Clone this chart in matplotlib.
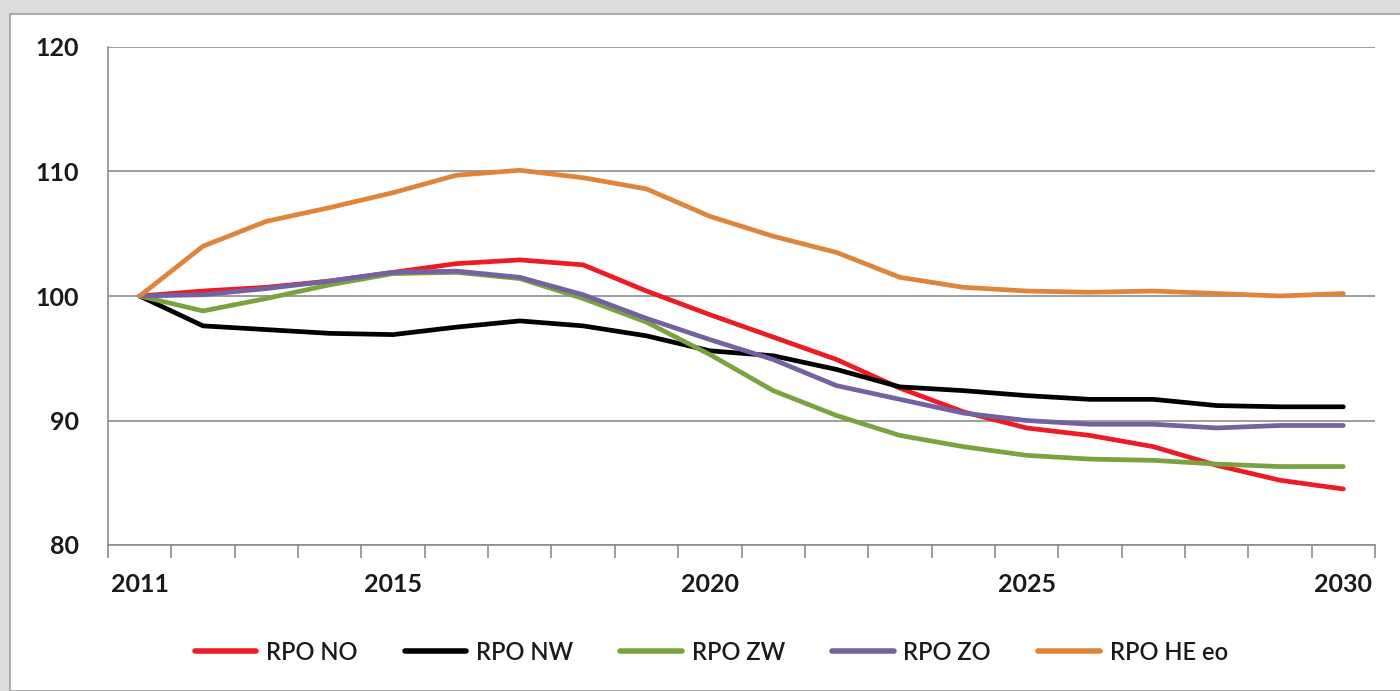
import matplotlib.pyplot as plt
from matplotlib.patches import Rectangle
from matplotlib.ticker import FixedLocator

years = list(range(2011, 2031))
rpo_no = [100, 100.4, 100.7, 101.2, 101.9, 102.6, 102.9, 102.5, 100.4, 98.5,
          96.7, 94.9, 92.6, 90.7, 89.4, 88.8, 87.9, 86.4, 85.2, 84.5]
rpo_nw = [100, 97.6, 97.3, 97.0, 96.9, 97.5, 98.0, 97.6, 96.8, 95.6,
          95.2, 94.1, 92.7, 92.4, 92.0, 91.7, 91.7, 91.2, 91.1, 91.1]
rpo_zw = [100, 98.8, 99.8, 100.9, 101.8, 101.9, 101.4, 99.8, 97.9, 95.3,
          92.4, 90.4, 88.8, 87.9, 87.2, 86.9, 86.8, 86.5, 86.3, 86.3]
rpo_zo = [100, 100.1, 100.6, 101.2, 101.9, 102.0, 101.5, 100.1, 98.2, 96.5,
          94.9, 92.8, 91.7, 90.6, 90.0, 89.7, 89.7, 89.4, 89.6, 89.6]
rpo_he = [100, 104.0, 106.0, 107.1, 108.3, 109.7, 110.1, 109.5, 108.6, 106.4,
          104.8, 103.5, 101.5, 100.7, 100.4, 100.3, 100.4, 100.2, 100.0, 100.2]

series = [
    ('RPO NO', rpo_no, '#ED1C24'),
    ('RPO NW', rpo_nw, '#000000'),
    ('RPO ZW', rpo_zw, '#7AA33F'),
    ('RPO ZO', rpo_zo, '#7461A1'),
    ('RPO HE eo', rpo_he, '#E0843A'),
]

plt.rcParams['font.family'] = ['Lato', 'DejaVu Sans']

fig = plt.figure(figsize=(14, 6.91), dpi=100, facecolor='#dcdcdc')
# white chart panel over a grey backdrop
fig.patches.append(Rectangle((10 / 1400, 0), 1.0, 1 - 14 / 691, transform=fig.transFigure,
                             facecolor='white', edgecolor='#a0a0a0', linewidth=1.2, zorder=-10))

ax = fig.add_axes([108 / 1400, 1 - 545 / 691, (1375 - 108) / 1400, (545 - 47) / 691])
ax.set_zorder(2)
ax.set_facecolor('white')

x = list(range(len(years)))
for name, vals, col in series:
    ax.plot(x, vals, color=col, linewidth=3.4, label=name, solid_capstyle='round', zorder=3)

ax.set_xlim(-0.5, len(years) - 0.5)
ax.set_ylim(80, 120)
ax.set_yticks([80, 90, 100, 110, 120])
ax.yaxis.grid(True, color='#8c8c8c', linewidth=1.2)
ax.set_axisbelow(True)

lab_idx = [0, 4, 9, 14, 19]
ax.set_xticks(lab_idx)
ax.set_xticklabels([str(years[i]) for i in lab_idx])
ax.xaxis.set_minor_locator(FixedLocator([i - 0.5 for i in range(len(years) + 1)]))
ax.tick_params(axis='x', which='major', length=0, pad=20)
ax.tick_params(axis='x', which='minor', length=9, width=1.2, color='#8c8c8c')
ax.tick_params(axis='y', length=0, pad=21)
for lbl in ax.get_xticklabels() + ax.get_yticklabels():
    lbl.set_fontsize(18)
    lbl.set_fontweight('bold')
    lbl.set_color('#1a1a1a')

for s in ['top', 'right']:
    ax.spines[s].set_visible(False)
for s in ['left', 'bottom']:
    ax.spines[s].set_color('#8c8c8c')
    ax.spines[s].set_linewidth(1.2)

leg = fig.legend(loc='center', bbox_to_anchor=(0.508, 1 - 652 / 691), ncol=5, frameon=False,
                 fontsize=17, handlelength=2.6, handletextpad=0.42, columnspacing=2.0)
for line in leg.get_lines():
    line.set_linewidth(4)
for t in leg.get_texts():
    t.set_fontweight('semibold')
    t.set_color('#1a1a1a')

fig.savefig('out.png', dpi=100, facecolor=fig.get_facecolor())
